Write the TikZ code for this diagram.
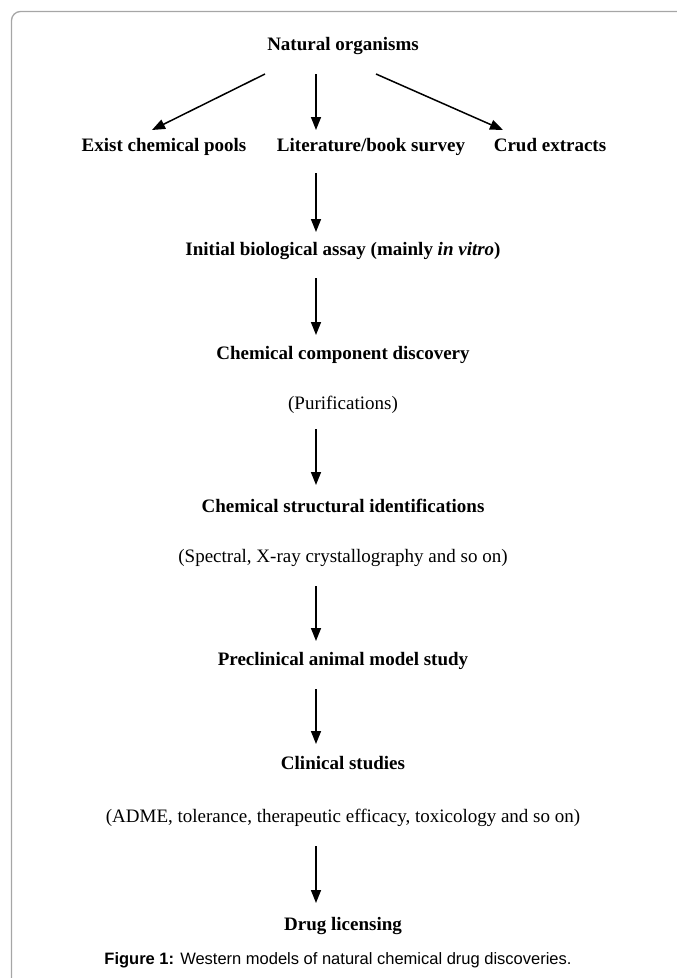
\documentclass[tikz,border=0pt]{standalone}
\usepackage{fontspec}
\setmainfont{Liberation Serif}
\newfontfamily\capfont{Liberation Sans}
\usetikzlibrary{arrows.meta}
\begin{document}
\begin{tikzpicture}[x=1pt,y=-1pt,
  lbl/.style={font=\fontsize{19}{22}\selectfont\bfseries, inner sep=0pt, text height=13pt, text depth=4pt},
  note/.style={font=\fontsize{19}{22}\selectfont, inner sep=0pt, text height=13pt, text depth=4pt},
  arr/.style={line width=1.5pt, -{Triangle[length=13pt,width=10pt]}},
  frame/.style={draw=black!35, line width=1.3pt, rounded corners=9pt}]
\useasboundingbox (0,0) rectangle (677,978);
\draw[frame] (11.5,1000) -- (11.5,11.5) -- (700,11.5);

\node[lbl] (nat) at (343,46) {Natural organisms};
\node[lbl] (exist) at (164,147) {Exist chemical pools};
\node[lbl] (lit) at (371,147) {Literature/book survey};
\node[lbl] (crud) at (550,147) {Crud extracts};
\node[lbl] (init) at (343,251) {Initial biological assay (mainly \textit{in vitro})};
\node[lbl] (comp) at (343,355) {Chemical component discovery};
\node[note] (purif) at (343,405) {(Purifications)};
\node[lbl] (struct) at (343,508) {Chemical structural identifications};
\node[note] (spec) at (343,558) {(Spectral, X-ray crystallography and so on)};
\node[lbl] (precl) at (343,661) {Preclinical animal model study};
\node[lbl] (clin) at (343,765) {Clinical studies};
\node[note] (adme) at (343,818) {(ADME, tolerance, therapeutic efficacy, toxicology and so on)};
\node[lbl] (drug) at (343,926) {Drug licensing};
\node[inner sep=0pt, font=\capfont\fontsize{16.5}{20}\selectfont] (cap) at (338,960) {\textbf{Figure 1:} Western models of natural chemical drug discoveries.};

% arrow end points
\coordinate (n0) at (316,74);
\coordinate (nl) at (265,74);
\coordinate (nr) at (376,74);
\coordinate (tl) at (152,130);
\coordinate (tm) at (316,130);
\coordinate (tr) at (503,130);
\coordinate (a1) at (316,173); \coordinate (b1) at (316,232);
\coordinate (a2) at (316,278); \coordinate (b2) at (316,335);
\coordinate (a3) at (316,429); \coordinate (b3) at (316,485);
\coordinate (a4) at (316,586); \coordinate (b4) at (316,641);
\coordinate (a5) at (316,689); \coordinate (b5) at (316,744);
\coordinate (a6) at (316,846); \coordinate (b6) at (316,903);

\draw[arr] (nl) -- (tl);
\draw[arr] (n0) -- (tm);
\draw[arr] (nr) -- (tr);
\draw[arr] (a1) -- (b1);
\draw[arr] (a2) -- (b2);
\draw[arr] (a3) -- (b3);
\draw[arr] (a4) -- (b4);
\draw[arr] (a5) -- (b5);
\draw[arr] (a6) -- (b6);
\end{tikzpicture}
\end{document}
